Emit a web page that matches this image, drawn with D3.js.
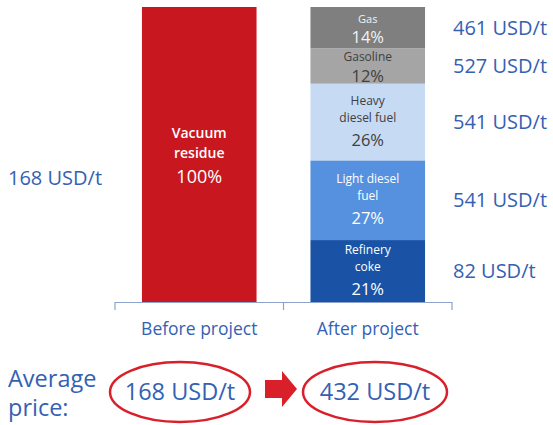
<!DOCTYPE html>
<html>
<head>
<meta charset="utf-8">
<script src="https://cdn.jsdelivr.net/npm/d3@7"></script>
<style>
  body { margin: 0; background: #fff; }
  svg { display: block; font-family: 'Open Sans', sans-serif; }
</style>
</head>
<body>
<svg id="chart" width="553" height="425"></svg>
<script>
// data
const categories = ['Before project', 'After project'];

const beforeNames = [['Vacuum', 'residue']];
const beforeShares = [100];
const beforePrices = [168];

// after project, bottom to top
const afterNames = [['Refinery', 'coke'], ['Light diesel', 'fuel'], ['Heavy', 'diesel fuel'], ['Gasoline'], ['Gas']];
const afterShares = [21, 27, 26, 12, 14];
const afterPrices = [82, 541, 541, 527, 461];
const afterColors = ['#1a53a5', '#5591de', '#c6daf3', '#a5a5a5', '#7f7f7f'];
const afterTextColors = ['#fff', '#fff', '#404040', '#404040', '#f2f2f2'];

const averagePrices = [168, 432];

const blue = '#3461b3';
const red = '#c8171e';

const svg = d3.select('#chart');

const x = d3.scaleBand()
	.domain(categories)
	.range([115, 452])
	.paddingInner(0.32)
	.paddingOuter(0.16);

const y = d3.scaleLinear()
	.domain([0, 100])
	.range([302, 7]);

// stacked segments for both bars
function makeSegments(cat, names, shares, prices, colors, textColors) {
	let acc = 0;
	return shares.map((s, i) => {
		const seg = {
			cat: cat, name: names[i], share: s, price: prices[i],
			y0: acc, y1: acc + s, color: colors[i], text: textColors[i]
		};
		acc += s;
		return seg;
	});
}

const beforeSegs = makeSegments(categories[0], beforeNames, beforeShares, beforePrices, [red], ['#fff']);
const afterSegs = makeSegments(categories[1], afterNames, afterShares, afterPrices, afterColors, afterTextColors);
const segs = beforeSegs.concat(afterSegs);

svg.selectAll('.seg')
	.data(segs)
	.enter()
	.append('rect')
	.attr('class', 'seg')
	.attr('x', d => x(d.cat))
	.attr('width', x.bandwidth())
	.attr('y', d => y(d.y1))
	.attr('height', d => y(d.y0) - y(d.y1))
	.attr('fill', d => d.color);

// labels inside segments
segs.forEach(d => {
	const big = d.cat === categories[0];
	const cx = x(d.cat) + x.bandwidth() / 2;
	const cy = (y(d.y0) + y(d.y1)) / 2;
	const g = svg.append('g').attr('fill', d.text).attr('text-anchor', 'middle');
	let lines;
	if (d.name.length === 2) {
		lines = big ? [cy - 21, cy - 1, cy + 22] : [cy - 21, cy - 4, cy + 18];
	} else {
		lines = [cy - 9, cy + 10];
	}
	d.name.forEach((n, i) => {
		g.append('text')
			.attr('x', cx)
			.attr('y', lines[i])
			.attr('dy', '0.35em')
			.style('font-size', big ? '14px' : (n === 'Gas' ? '11px' : '12px'))
			.style('font-weight', big ? 600 : 400)
			.text(n);
	});
	g.append('text')
		.attr('x', cx)
		.attr('y', lines[lines.length - 1])
		.attr('dy', '0.35em')
		.style('font-size', big ? '18px' : '16.5px')
		.text(d.share + '%');
});

// axis
const axis = svg.append('g').attr('stroke', '#8fa3cf').attr('stroke-width', 1.2);
axis.append('line')
	.attr('x1', x.range()[0]).attr('x2', x.range()[1])
	.attr('y1', y(0) + 0.5).attr('y2', y(0) + 0.5);
const tickX = [x.range()[0], (x(categories[0]) + x.bandwidth() + x(categories[1])) / 2, x.range()[1]];
axis.selectAll('.tick')
	.data(tickX)
	.enter()
	.append('line')
	.attr('x1', d => d).attr('x2', d => d)
	.attr('y1', y(0)).attr('y2', y(0) + 8);

svg.selectAll('.cat')
	.data(categories)
	.enter()
	.append('text')
	.attr('x', d => x(d) + x.bandwidth() / 2)
	.attr('y', 335)
	.attr('text-anchor', 'middle')
	.attr('fill', blue)
	.style('font-size', '17.5px')
	.text(d => d);

// price labels
svg.selectAll('.lprice')
	.data(beforeSegs)
	.enter()
	.append('text')
	.attr('x', 8)
	.attr('y', y(42))
	.attr('dy', '0.35em')
	.attr('fill', blue)
	.style('font-size', '20px')
	.text(d => d.price + ' USD/t');

svg.selectAll('.rprice')
	.data(afterSegs)
	.enter()
	.append('text')
	.attr('x', 453)
	.attr('y', d => y((d.y0 + d.y1) / 2))
	.attr('dy', '0.35em')
	.attr('fill', blue)
	.style('font-size', '20px')
	.text(d => d.price + ' USD/t');

// average price row
const avg = svg.append('g');
avg.append('text').attr('x', 8).attr('y', 387).attr('fill', blue).style('font-size', '23.5px').text('Average');
avg.append('text').attr('x', 8).attr('y', 416).attr('fill', blue).style('font-size', '23.5px').text('price:');

const ellX = [180, 375];
const ellRx = [70, 72];
avg.selectAll('ellipse')
	.data(averagePrices)
	.enter()
	.append('ellipse')
	.attr('cx', (d, i) => ellX[i])
	.attr('cy', 392)
	.attr('rx', (d, i) => ellRx[i])
	.attr('ry', 30)
	.attr('fill', 'none')
	.attr('stroke', '#d9202a')
	.attr('stroke-width', 2.5);

avg.selectAll('.avgtxt')
	.data(averagePrices)
	.enter()
	.append('text')
	.attr('x', (d, i) => ellX[i])
	.attr('y', 392)
	.attr('dy', '0.35em')
	.attr('text-anchor', 'middle')
	.attr('fill', blue)
	.style('font-size', '23.5px')
	.text(d => d + ' USD/t');

// arrow
avg.append('path')
	.attr('d', 'M265,380 L282,380 L282,371 L297,389 L282,407 L282,398 L265,398 Z')
	.attr('fill', '#d9202a');
</script>
</body>
</html>
